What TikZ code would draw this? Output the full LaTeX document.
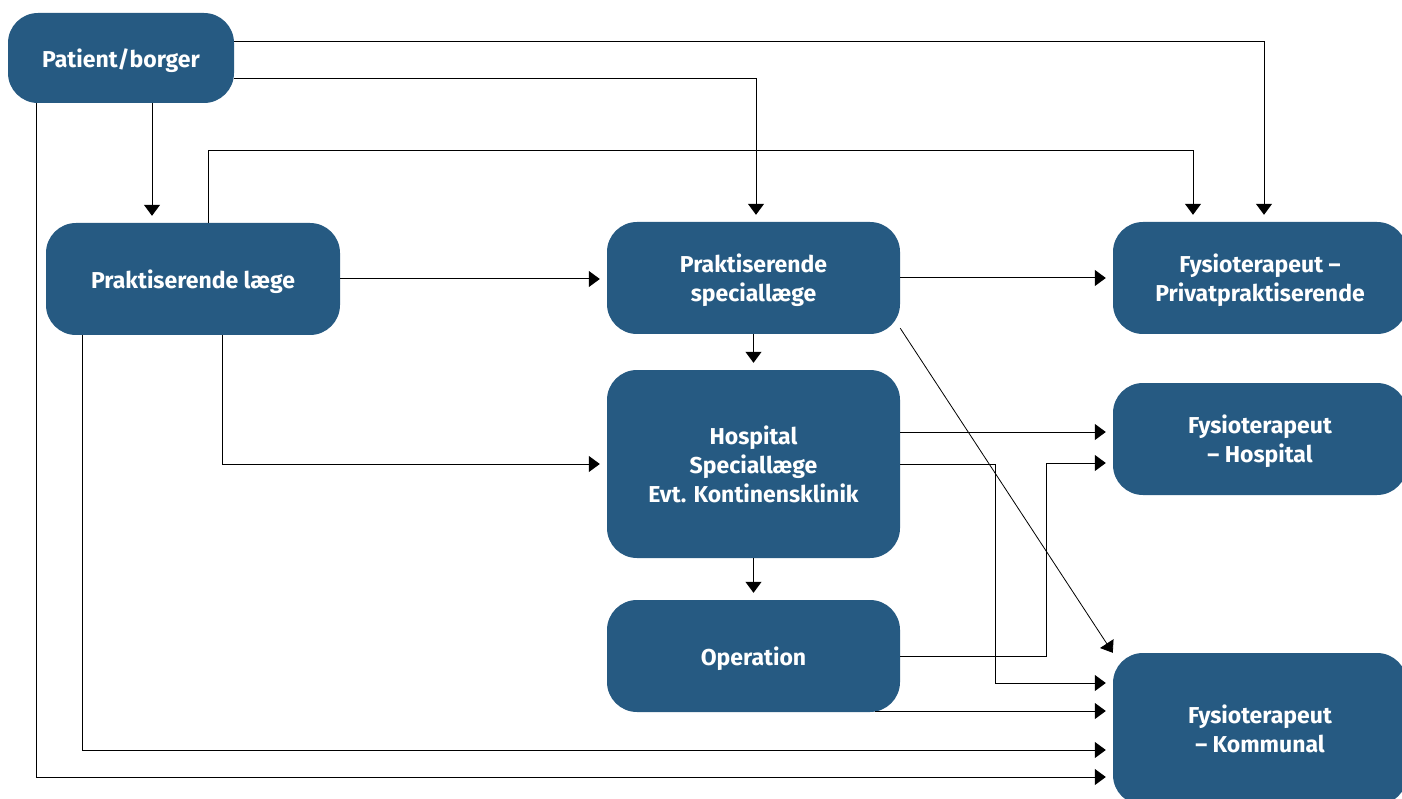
\documentclass[tikz,border=0pt]{standalone}
\usepackage{fontspec}
\setmainfont{Fira Sans}
\usetikzlibrary{arrows.meta}
\definecolor{boxblue}{RGB}{38,90,130}
\begin{document}
\begin{tikzpicture}[x=1pt, y=-1pt,
  box/.style={rectangle, rounded corners=30pt, fill=boxblue, text=white, align=center,
    inner sep=0pt, minimum width=294pt, minimum height=112pt, text depth=0pt,
    font=\fontsize{23}{29}\selectfont\bfseries},
  flow/.style={-{Triangle[length=11pt,width=16pt]}, shorten >=7pt, line width=1pt}]
\useasboundingbox (0,0) rectangle (1402,799);
\node[box, minimum width=226pt, minimum height=90pt] (pat) at (121,58) {Patient/borger};
\node[box] (laege) at (193,279) {Praktiserende læge};
\node[box, minimum width=293pt] (spec) at (753.5,278) {Praktiserende\\speciallæge};
\node[box, minimum width=293pt, minimum height=188pt] (hosp) at (753.5,464) {Hospital\\Speciallæge\\Evt. Kontinensklinik};
\node[box, minimum width=293pt] (op) at (753.5,656) {Operation};
\node[box] (priv) at (1260,278) {Fysioterapeut –\\Privatpraktiserende};
\node[box] (fhosp) at (1260,439) {Fysioterapeut\\– Hospital};
\node[box, minimum height=152pt] (komm) at (1260,729) {Fysioterapeut\\– Kommunal};
% fra patient/borger
\draw[flow] ([yshift=16pt]pat.east) -| ([xshift=4pt]priv.north);
\draw[flow] ([yshift=-21pt]pat.east) -| ([xshift=2.5pt]spec.north);
\draw[flow] ([xshift=31pt]pat.south) -- ([xshift=-41pt]laege.north);
\draw[flow] ([xshift=-85pt]pat.south) |- ([yshift=-48pt]komm.west);
% fra praktiserende laege
\draw[flow] ([xshift=15pt]laege.north) |- ([xshift=-67pt,yshift=71pt]priv.north) -- ([xshift=-67pt]priv.north);
\draw[flow] (laege.east) -- (laege.east -| spec.west);
\draw[flow] ([xshift=29pt]laege.south) |- (hosp.west);
\draw[flow] ([xshift=-111pt]laege.south) |- ([yshift=-21pt]komm.west);
% fra speciallaege
\draw[flow] (spec.east) -- (priv.west);
\draw[flow] (spec.south) -- (hosp.north);
\draw[-{Triangle[length=11pt,width=16pt]}, line width=0.8pt] ([yshift=6pt]spec.south east) -- (komm.north west);
% fra hospital
\draw[flow] ([yshift=7pt]fhosp.west -| hosp.east) -- ([yshift=7pt]fhosp.west);
\draw[flow] (hosp.east) -| ([xshift=-117pt,yshift=46pt]komm.west) -- ([yshift=46pt]komm.west);
\draw[flow] (hosp.south) -- (op.north);
% fra operation
\draw[flow] (op.east) -| ([xshift=-66pt,yshift=-24pt]fhosp.west) -- ([yshift=-24pt]fhosp.west);
\draw[flow] ([xshift=-25pt,yshift=18pt]komm.west -| op.east) -- ([yshift=18pt]komm.west);
\end{tikzpicture}
\end{document}
